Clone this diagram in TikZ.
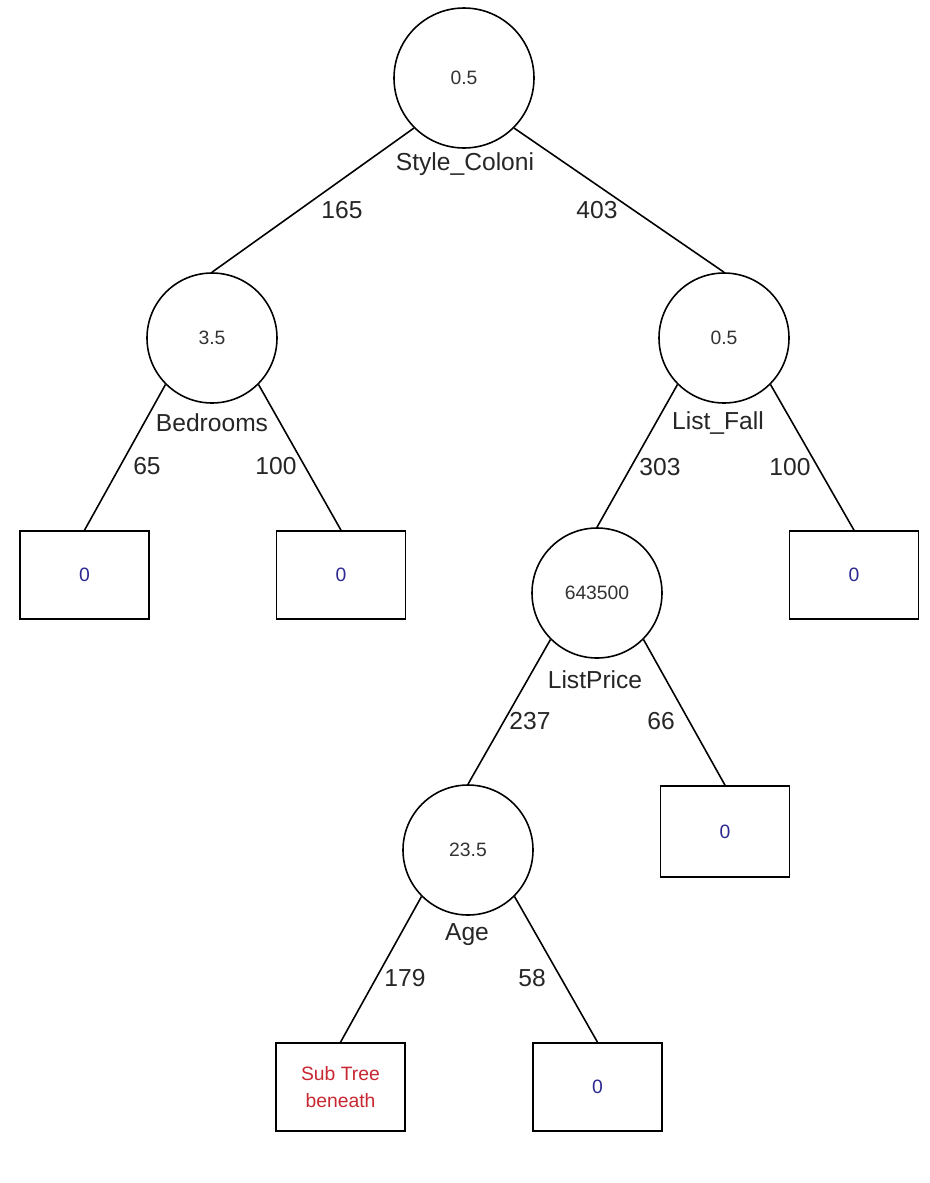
\documentclass[tikz,border=0pt]{standalone}
\usepackage{fontspec}
\setmainfont{Liberation Sans}
\usepackage{tikz}
\usetikzlibrary{positioning}
\definecolor{leafblue}{RGB}{45,40,145}
\definecolor{subred}{RGB}{200,40,50}
\begin{document}
\begin{tikzpicture}
		\tikzset{
			splitnode/.style={draw=black,circle,line width=0.9pt,minimum size=2.6cm,inner sep=0pt,text=black!80,font=\fontsize{11}{13}\selectfont},
		}
		\tikzset{
			leafnode/.style={draw=black,rectangle,line width=0.9pt,minimum width=2.58cm,minimum height=1.76cm,inner sep=0pt,text=leafblue,font=\fontsize{11}{13}\selectfont},
		}
		\tikzset{
			textnode/.style={text=black!85,font=\fontsize{14}{16}\selectfont},
		}
		\tikzset{
			edge/.style={color=black,line width=0.9pt},
		}
		
		\fill[white] (0,0) rectangle (18.6,-23.66);
		\useasboundingbox (0,0) rectangle (18.6,-23.66);
		
		\node[splitnode,minimum size=2.8cm] (root) at (9.28, -1.56) {0.5};
		\node[textnode] (rootvar) at (9.30, -3.28) {Style\_Coloni};
		
		\node[splitnode] (bed) at (4.24, -6.76) {3.5};
		\node[textnode] (bedvar) at (4.24, -8.46) {Bedrooms};
		
		\node[splitnode] (fall) at (14.48, -6.76) {0.5};
		\node[textnode] (fallvar) at (14.36, -8.46) {List\_Fall};
		
		\node[leafnode] (leafA) at (1.69, -11.5) {0};
		\node[leafnode] (leafB) at (6.82, -11.5) {0};
		\node[leafnode] (leafC) at (17.08, -11.5) {0};
		
		\node[splitnode] (price) at (11.94, -11.86) {643500};
		\node[textnode] (pricevar) at (11.9, -13.6) {ListPrice};
		
		\node[leafnode,minimum height=1.82cm] (leafD) at (14.5, -16.63) {0};
		
		\node[splitnode] (age) at (9.36, -17.0) {23.5};
		\node[textnode] (agevar) at (9.34, -18.7) {Age};
		
		\node[leafnode,text=subred,align=center,font=\fontsize{11}{15}\selectfont] (subtree) at (6.81, -21.74) {Sub Tree\\beneath};
		\node[leafnode] (leafE) at (11.95, -21.74) {0};
		
		\node[textnode] (nA) at (6.84, -4.20) {165};
		\node[textnode] (nB) at (11.94, -4.20) {403};
		\node[textnode] (nC) at (2.94, -9.32) {65};
		\node[textnode] (nD) at (5.52, -9.32) {100};
		\node[textnode] (nE) at (13.2, -9.34) {303};
		\node[textnode] (nF) at (15.8, -9.34) {100};
		\node[textnode] (nG) at (10.6, -14.42) {237};
		\node[textnode] (nH) at (13.22, -14.42) {66};
		\node[textnode] (nI) at (8.1, -19.56) {179};
		\node[textnode] (nJ) at (10.64, -19.56) {58};
		
		\draw[edge] (root.south west) to (bed.north);
		\draw[edge] (root.south east) to (fall.north);
		\draw[edge] (bed.south west) to (leafA.north);
		\draw[edge] (bed.south east) to (leafB.north);
		\draw[edge] (fall.south west) to (price.north);
		\draw[edge] (fall.south east) to (leafC.north);
		\draw[edge] (price.south west) to (age.north);
		\draw[edge] (price.south east) to (leafD.north);
		\draw[edge] (age.south west) to (subtree.north);
		\draw[edge] (age.south east) to (leafE.north);
	\end{tikzpicture}
\end{document}
